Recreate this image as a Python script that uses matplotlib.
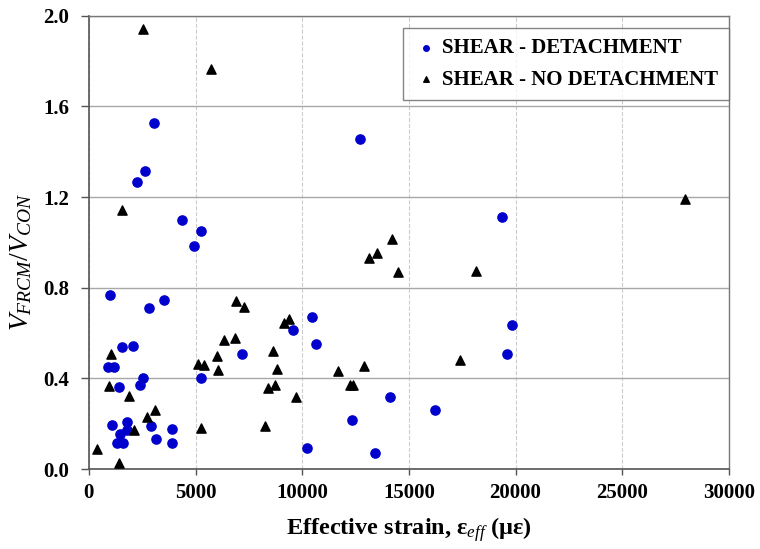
import matplotlib
matplotlib.use('Agg')
import matplotlib.pyplot as plt

plt.rcParams['font.family'] = ['Liberation Serif', 'DejaVu Serif']
plt.rcParams['mathtext.fontset'] = 'custom'
plt.rcParams['mathtext.rm'] = 'Liberation Serif'
plt.rcParams['mathtext.it'] = 'Liberation Serif:italic'
plt.rcParams['mathtext.bf'] = 'Liberation Serif:bold'

# shear - detachment (circles)
det_x = [3046, 2609, 2249, 4358, 5264, 4905, 984, 2796, 3514, 10465, 9575, 10669,
         7186, 1562, 2046, 890, 1187, 1406, 2515, 2406, 5248, 1062, 1765, 2890,
         3874, 1796, 1453, 3124, 1296, 1609, 3889, 10247, 19822, 19620, 14105,
         16246, 12324, 13416, 12714, 19368]
det_y = [1.526, 1.316, 1.267, 1.100, 1.051, 0.985, 0.768, 0.709, 0.747, 0.669, 0.615, 0.551,
         0.506, 0.540, 0.541, 0.448, 0.451, 0.363, 0.401, 0.372, 0.400, 0.196, 0.207, 0.188,
         0.175, 0.172, 0.156, 0.132, 0.113, 0.115, 0.113, 0.094, 0.634, 0.507, 0.319,
         0.260, 0.216, 0.072, 1.456, 1.112]

# shear - no detachment (triangles)
nodet_x = [2545, 5732, 1546, 6888, 7279, 9138, 9357, 6311, 6826, 5998, 8637, 5108,
           5373, 6060, 8810, 11680, 1031, 937, 1890, 8403, 8747, 9731, 3093, 2733,
           2093, 5233, 8263, 375, 1421, 13121, 13496, 14512, 18167, 17388, 12900,
           12250, 12400, 27961, 14231]
nodet_y = [1.941, 1.764, 1.141, 0.741, 0.716, 0.645, 0.660, 0.569, 0.579, 0.498, 0.521, 0.463,
           0.459, 0.435, 0.441, 0.434, 0.506, 0.366, 0.322, 0.359, 0.371, 0.318, 0.259, 0.228,
           0.171, 0.181, 0.191, 0.087, 0.025, 0.932, 0.951, 0.869, 0.875, 0.481, 0.456,
           0.371, 0.371, 1.191, 1.013]

fig = plt.figure(figsize=(7.6, 5.49), dpi=100)
ax = fig.add_axes([0.117, 0.1457, 0.842, 0.8257])

ax.scatter(det_x, det_y, s=44, marker='o', color='#0000cc', zorder=3,
           label='SHEAR - DETACHMENT')
ax.scatter(nodet_x, nodet_y, s=44, marker='^', color='black', zorder=3,
           label='SHEAR - NO DETACHMENT')

ax.set_xlim(0, 30000)
ax.set_ylim(0, 2.0)
ax.set_xticks(range(0, 30001, 5000))
ax.set_yticks([0.0, 0.4, 0.8, 1.2, 1.6, 2.0])
ax.set_yticklabels(['0.0', '0.4', '0.8', '1.2', '1.6', '2.0'])

ax.grid(True, axis='y', color='#a8a8a8', linestyle='-', linewidth=1.0, zorder=0)
ax.grid(True, axis='x', color='#cccccc', linestyle='--', linewidth=0.8, zorder=0)
ax.set_axisbelow(True)

for s in ['left', 'bottom']:
    ax.spines[s].set_color('#555555')
    ax.spines[s].set_linewidth(1.2)
for s in ['top', 'right']:
    ax.spines[s].set_color('#777777')
    ax.spines[s].set_linewidth(1.0)

ax.tick_params(axis='x', direction='out', length=4, width=1, color='#555555',
               labelsize=15, pad=6)
ax.tick_params(axis='y', direction='out', length=6, width=1, color='#555555',
               labelsize=15, pad=8)
for lab in ax.get_xticklabels() + ax.get_yticklabels():
    lab.set_fontweight('bold')

ax.set_xlabel(r'Effective strain, ε$_{\mathit{eff}}$ (με)', fontsize=17.5,
              fontweight='bold', labelpad=9)
ax.set_ylabel(r'$V_{FRCM}/V_{CON}$', fontsize=20)
ax.yaxis.set_label_coords(-0.085, 0.457)

leg = ax.legend(loc='upper right', bbox_to_anchor=(1.0, 0.973), frameon=True,
                fancybox=False, edgecolor='#666666', handletextpad=0.2,
                handlelength=1.2, markerscale=0.6, borderpad=0.5,
                borderaxespad=0, labelspacing=0.55,
                prop={'weight': 'bold', 'size': 15})
leg.get_frame().set_linewidth(1.0)

fig.savefig('out.png', dpi=100)
